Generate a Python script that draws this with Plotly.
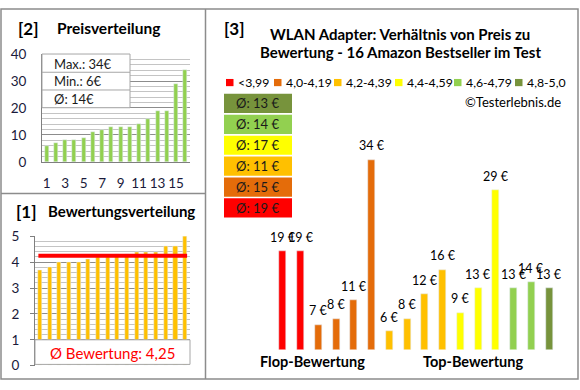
import math
import plotly.graph_objects as go

W, H = 580, 390
def X(px): return px / W
def Y(py): return 1 - py / H

FONT = "Lato"
NAVY = "#1a1a3a"

# ---------- data ----------
products = list(range(1, 17))
prices = [19, 19, 7, 8, 11, 34, 6, 8, 12, 16, 9, 13, 29, 13, 14, 13]
ratings = [3.7, 3.8, 4.0, 4.0, 4.0, 4.1, 4.2, 4.2, 4.3, 4.3, 4.4, 4.4, 4.4, 4.6, 4.6, 5.0]
sorted_prices = sorted(prices)
price_ticks = [1, 3, 5, 7, 9, 11, 13, 15]

cat_labels = ["<3,99", "4,0-4,19", "4,2-4,39", "4,4-4,59", "4,6-4,79", "4,8-5,0"]
cat_colors = ["#FF0000", "#E46C0A", "#FFC000", "#FFFF00", "#92D050", "#77933C"]
cat_bounds = [0, 4.0, 4.2, 4.4, 4.6, 4.8, 5.01]

def cat_of(r):
    for i in range(6):
        if cat_bounds[i] <= r + 1e-9 < cat_bounds[i + 1]:
            return i
    return 5

bar_cats = [cat_of(r) for r in ratings]
bar_colors = [cat_colors[c] for c in bar_cats]
avg_rating = sum(ratings) / len(ratings)
avg_price = sum(prices) / len(prices)

fig = go.Figure()

# ---------- Panel [2] Preisverteilung ----------
fig.add_trace(go.Bar(x=products, y=sorted_prices, marker_color="#92D050", width=0.45,
                     xaxis="x", yaxis="y", showlegend=False))

# ---------- Panel [1] Bewertungsverteilung ----------
fig.add_trace(go.Bar(x=products, y=ratings, marker_color="#FFC000", width=0.42,
                     xaxis="x2", yaxis="y2", showlegend=False))
fig.add_trace(go.Scatter(x=[0.85, 16.2], y=[avg_rating, avg_rating], mode="lines",
                         line=dict(color="#FF0000", width=4), xaxis="x2", yaxis="y2",
                         showlegend=False))

# ---------- Panel [3] main ----------
fig.add_trace(go.Bar(x=products, y=prices, marker_color=bar_colors, width=0.4,
                     xaxis="x3", yaxis="y3", showlegend=False))

grid_major = "#8c8c8c"
grid_minor = "#c4c4c4"

layout = dict(
    width=W, height=H, margin=dict(l=0, r=0, t=0, b=0),
    paper_bgcolor="white", plot_bgcolor="rgba(0,0,0,0)",
    font=dict(family=FONT, size=13, color="black"),
    bargap=0,
    xaxis=dict(domain=[X(42), X(190)], range=[0.5, 16.5], tickvals=price_ticks,
               showgrid=False, zeroline=False, showline=True, linecolor="#7f7f7f",
               ticks="", tickfont=dict(size=13.5, color=NAVY), ticklabelstandoff=9),
    yaxis=dict(domain=[Y(160.5), Y(48)], range=[0, 40], dtick=10, showgrid=True,
               gridcolor=grid_major, zeroline=False, showline=True, linecolor="#7f7f7f",
               minor=dict(dtick=2, showgrid=True, gridcolor=grid_minor),
               tickfont=dict(size=13.5, color=NAVY), ticklabelstandoff=12),
    xaxis2=dict(domain=[X(35), X(190)], range=[0.5, 16.5], showticklabels=False,
                showgrid=False, zeroline=False, showline=False, anchor="y2"),
    yaxis2=dict(domain=[Y(373), Y(238)], range=[0, 5], dtick=1, showgrid=True,
                gridcolor=grid_major, zeroline=False, showline=True, linecolor="#7f7f7f",
                ticks="outside", ticklen=4, tickcolor="#7f7f7f",
                minor=dict(dtick=0.2, showgrid=True, gridcolor=grid_minor),
                tickfont=dict(size=13.5, color=NAVY), ticklabelstandoff=8, anchor="x2"),
    xaxis3=dict(domain=[X(274), X(558)], range=[0.5, 16.5], visible=False, anchor="y3"),
    yaxis3=dict(domain=[Y(356), Y(120)], range=[3, 40], visible=False, anchor="x3"),
)
fig.update_layout(**layout)

shapes = []
ann = []

# outer frame & dividers
shapes.append(dict(type="rect", xref="paper", yref="paper", x0=X(1), x1=X(578), y0=Y(387), y1=Y(1),
                   line=dict(color="#8c8c8c", width=1.5)))
shapes.append(dict(type="line", xref="paper", yref="paper", x0=X(205.5), x1=X(205.5), y0=Y(387), y1=Y(1),
                   line=dict(color="#8c8c8c", width=1.5)))
shapes.append(dict(type="line", xref="paper", yref="paper", x0=X(1), x1=X(205.5), y0=Y(193.5), y1=Y(193.5),
                   line=dict(color="#8c8c8c", width=1.5)))

# Panel 2 titles
ann.append(dict(text="<b>[2]</b>", x=X(16), y=Y(21), xanchor="left", yanchor="middle",
                font=dict(size=17, color="black")))
ann.append(dict(text="<b>Preisverteilung</b>", x=X(109), y=Y(21), xanchor="center", yanchor="middle",
                font=dict(size=15.5, color="black")))
# inset box
shapes.append(dict(type="rect", xref="paper", yref="paper", x0=X(42), x1=X(130), y0=Y(104), y1=Y(48),
                   fillcolor="white", line=dict(color="#a6a6a6", width=1), layer="above"))
for yy in (67, 85.5):
    shapes.append(dict(type="line", xref="paper", yref="paper", x0=X(42), x1=X(130), y0=Y(yy), y1=Y(yy),
                       line=dict(color="#a6a6a6", width=1), layer="above"))
stats = [f"Max.: {max(prices)}€", f"Min.: {min(prices)}€", f"Ø: {math.floor(avg_price)}€"]
for t, yy in zip(stats, (58, 76.5, 95)):
    ann.append(dict(text=t, x=X(52), y=Y(yy), xanchor="left", yanchor="middle",
                    font=dict(size=13, color="#1a1a1a")))

# Panel 1 titles
ann.append(dict(text="<b>[1]</b>", x=X(14), y=Y(212), xanchor="left", yanchor="middle",
                font=dict(size=17, color="black")))
ann.append(dict(text="<b>Bewertungsverteilung</b>", x=X(121), y=Y(212), xanchor="center", yanchor="middle",
                font=dict(size=15, color="black")))
shapes.append(dict(type="rect", xref="paper", yref="y2", x0=X(35), x1=X(190), y0=0.05, y1=1,
                   fillcolor="white", line=dict(color="#a6a6a6", width=1), layer="above"))
ann.append(dict(text="Ø Bewertung: " + f"{avg_rating:.2f}".replace(".", ","), x=X(112), y=Y(360),
                xanchor="center", yanchor="middle", font=dict(size=15, color="#FF0000")))

# Panel 3 titles
ann.append(dict(text="<b>[3]</b>", x=X(222), y=Y(21), xanchor="left", yanchor="middle",
                font=dict(size=17, color="black")))
ann.append(dict(text="<b>WLAN Adapter: Verhältnis von Preis zu</b>", x=X(400), y=Y(27),
                xanchor="center", yanchor="middle", font=dict(size=15, color="black")))
ann.append(dict(text="<b>Bewertung - 16 Amazon Bestseller im Test</b>", x=X(400), y=Y(46),
                xanchor="center", yanchor="middle", font=dict(size=15, color="black")))

# legend (manual)
leg_x = [226, 274, 334, 395, 454, 515]
for lx, lab, col in zip(leg_x, cat_labels, cat_colors):
    shapes.append(dict(type="rect", xref="paper", yref="paper", x0=X(lx), x1=X(lx + 7.5),
                       y0=Y(81.5), y1=Y(74), fillcolor=col, line=dict(width=0)))
    ann.append(dict(text=lab, x=X(lx + 9.5), y=Y(78), xanchor="left", yanchor="middle",
                    font=dict(size=12.3, color="black")))
ann.append(dict(text="©Testerlebnis.de", x=X(563), y=Y(98), xanchor="right", yanchor="middle",
                font=dict(size=13, color="black")))

# average boxes (top: best category)
for k, c in enumerate(reversed(range(6))):
    vals = [p for p, bc in zip(prices, bar_cats) if bc == c]
    avg = math.floor(sum(vals) / len(vals) + 0.5)
    top = 89.5 + k * 21.8
    shapes.append(dict(type="rect", xref="paper", yref="paper", x0=X(224), x1=X(292),
                       y0=Y(top + 20), y1=Y(top), fillcolor=cat_colors[c], line=dict(width=0)))
    ann.append(dict(text=f"Ø: {avg} €", x=X(234), y=Y(top + 10), xanchor="left", yanchor="middle",
                    font=dict(size=13, color="#1a1a1a")))

# bar value labels
for xi, p in zip(products, prices):
    ann.append(dict(text=f"{p} €", x=xi, y=p, xref="x3", yref="y3", yshift=14,
                    xanchor="center", yanchor="middle", showarrow=False,
                    font=dict(size=12.5, color="black")))

ann.append(dict(text="<b>Flop-Bewertung</b>", x=X(312), y=Y(369), xanchor="center", yanchor="middle",
                font=dict(size=14.5, color="black")))
ann.append(dict(text="<b>Top-Bewertung</b>", x=X(473), y=Y(369), xanchor="center", yanchor="middle",
                font=dict(size=14.5, color="black")))

for a in ann:
    a.setdefault("xref", "paper")
    a.setdefault("yref", "paper")
    a.setdefault("showarrow", False)

fig.update_layout(shapes=shapes, annotations=ann)
fig.write_html("out.html", config={"displayModeBar": False},
               post_script="document.body.style.margin='0';document.body.style.overflow='hidden';")
